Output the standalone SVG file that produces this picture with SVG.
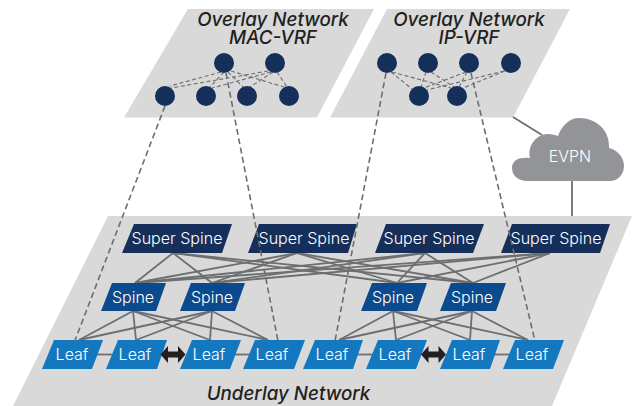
<svg xmlns="http://www.w3.org/2000/svg" width="632" height="406" viewBox="0 0 632 406">
<style>
.plane{fill:#d9d9d9}
.c{fill:#142f59}
.ss{fill:#152f5a}
.sp{fill:#0b4a8c}
.lf{fill:#1478c0}
.t{font-family:"Inter","Liberation Sans",sans-serif;font-size:16px;font-weight:300;fill:#fff;text-anchor:middle}
.h{font-family:"Inter","Liberation Sans",sans-serif;font-size:18.800px;font-weight:500;font-style:italic;fill:#231f20;text-anchor:middle}
.solid line{stroke:#6d6e70;stroke-width:1.8;fill:none}
.mesh line{stroke:#6d6e70;stroke-width:1.1;stroke-dasharray:4 2.5;fill:none}
.long line{stroke:#6d6e70;stroke-width:1.6;stroke-dasharray:6 3.5;fill:none}
</style>
<defs>
<path id="dbl" d="M-12.5 0L-5 -8.5V-3H5V-8.500L12.500 0L5 8.500V3H-5V8.500Z" fill="#231f20"/>
</defs>
<g id="plane-mac"><polygon class="plane" points="188,9 374,9 317,117.500 124,117.500"/></g>
<g id="plane-ip"><polygon class="plane" points="387,9 570,9 513,117.500 330,117.500"/></g>
<g id="plane-underlay"><polygon class="plane" points="108,216 632,216 552,406 13,406"/></g>
<g id="connectors" class="solid">
<line x1="513" y1="117" x2="542" y2="135"/>
<line x1="572" y1="181" x2="572" y2="216"/>
<line x1="173" y1="253" x2="135" y2="283"/><line x1="173" y1="253" x2="212" y2="283"/><line x1="173" y1="253" x2="397" y2="283"/><line x1="173" y1="253" x2="473" y2="283"/>
<line x1="297" y1="253" x2="135" y2="283"/><line x1="297" y1="253" x2="212" y2="283"/><line x1="297" y1="253" x2="397" y2="283"/><line x1="297" y1="253" x2="473" y2="283"/>
<line x1="425" y1="253" x2="135" y2="283"/><line x1="425" y1="253" x2="212" y2="283"/><line x1="425" y1="253" x2="397" y2="283"/><line x1="425" y1="253" x2="473" y2="283"/>
<line x1="550" y1="253" x2="135" y2="283"/><line x1="550" y1="253" x2="212" y2="283"/><line x1="550" y1="253" x2="397" y2="283"/><line x1="550" y1="253" x2="473" y2="283"/>
<line x1="133" y1="311" x2="79" y2="340"/><line x1="133" y1="311" x2="136" y2="340"/><line x1="133" y1="311" x2="210" y2="340"/><line x1="133" y1="311" x2="268" y2="340"/>
<line x1="212" y1="311" x2="79" y2="340"/><line x1="212" y1="311" x2="136" y2="340"/><line x1="212" y1="311" x2="210" y2="340"/><line x1="212" y1="311" x2="268" y2="340"/>
<line x1="393" y1="311" x2="339" y2="340"/><line x1="393" y1="311" x2="396" y2="340"/><line x1="393" y1="311" x2="470" y2="340"/><line x1="393" y1="311" x2="528" y2="340"/>
<line x1="472" y1="311" x2="339" y2="340"/><line x1="472" y1="311" x2="396" y2="340"/><line x1="472" y1="311" x2="470" y2="340"/><line x1="472" y1="311" x2="528" y2="340"/>
<line x1="92" y1="354.500" x2="112" y2="354.500"/><line x1="230" y1="354.500" x2="250" y2="354.500"/><line x1="353" y1="354.500" x2="373" y2="354.500"/><line x1="490" y1="354.500" x2="510" y2="354.500"/>
</g>
<g id="overlay-mesh" class="mesh">
<line x1="221" y1="72" x2="170" y2="86"/><line x1="224" y1="72" x2="210" y2="87"/><line x1="228" y1="72" x2="243" y2="87"/><line x1="231" y1="71" x2="284" y2="87"/>
<line x1="268" y1="71" x2="171" y2="88"/><line x1="271" y1="72" x2="212" y2="88"/><line x1="273" y1="72" x2="250" y2="87"/><line x1="277" y1="72" x2="287" y2="87"/>
<line x1="391" y1="72" x2="412" y2="89"/><line x1="392" y1="72" x2="451" y2="88"/><line x1="426" y1="72" x2="421" y2="87"/><line x1="431" y1="72" x2="454" y2="87"/>
<line x1="466" y1="72" x2="424" y2="88"/><line x1="467" y1="72" x2="459" y2="87"/><line x1="504" y1="71" x2="427" y2="90"/><line x1="505" y1="71" x2="463" y2="88"/>
</g>
<g id="vrf-mac-1"><circle class="c" cx="224" cy="63" r="10"/></g>
<g id="vrf-mac-2"><circle class="c" cx="275" cy="63" r="10"/></g>
<g id="vrf-mac-3"><circle class="c" cx="165" cy="96" r="10"/></g>
<g id="vrf-mac-4"><circle class="c" cx="206" cy="96" r="10"/></g>
<g id="vrf-mac-5"><circle class="c" cx="247" cy="96" r="10"/></g>
<g id="vrf-mac-6"><circle class="c" cx="289" cy="96" r="10"/></g>
<g id="vrf-ip-1"><circle class="c" cx="387" cy="63" r="10"/></g>
<g id="vrf-ip-2"><circle class="c" cx="428" cy="63" r="10"/></g>
<g id="vrf-ip-3"><circle class="c" cx="469" cy="63" r="10"/></g>
<g id="vrf-ip-4"><circle class="c" cx="511" cy="63" r="10"/></g>
<g id="vrf-ip-5"><circle class="c" cx="419" cy="96" r="10"/></g>
<g id="vrf-ip-6"><circle class="c" cx="457" cy="96" r="10"/></g>
<g id="evpn"><path d="M527 181C519 181 512 176 512 168C512 160 519 157 530 158C527 145 537 134 548 134C552 134 555 135 558 136C562 125 570 118 579 118C596 118 610 130 609 148C618 150 624 158 624 166C624 175 617 181 610 181Z" fill="#929497"/><text class="t" x="570" y="162">EVPN</text></g>
<g id="ss1"><polygon class="ss" points="134,224 232,224 222,253 122,253"/><text class="t" x="177" y="244">Super Spine</text></g>
<g id="ss2"><polygon class="ss" points="259,224 357,224 348,253 248,253"/><text class="t" x="304" y="244">Super Spine</text></g>
<g id="ss3"><polygon class="ss" points="386,224 484,224 473,253 375,253"/><text class="t" x="429" y="244">Super Spine</text></g>
<g id="ss4"><polygon class="ss" points="512,224 610,224 600,253 501,253"/><text class="t" x="556" y="244">Super Spine</text></g>
<g id="sp1"><polygon class="sp" points="112,283 166,283 156,311 101,311"/><text class="t" x="133" y="303">Spine</text></g>
<g id="sp2"><polygon class="sp" points="191,283 245,283 235,311 180,311"/><text class="t" x="212" y="303">Spine</text></g>
<g id="sp3"><polygon class="sp" points="372,283 427,283 417,311 361,311"/><text class="t" x="393" y="303">Spine</text></g>
<g id="sp4"><polygon class="sp" points="451,283 506,283 496,311 440,311"/><text class="t" x="472" y="303">Spine</text></g>
<g id="lf1"><polygon class="lf" points="54,340 103,340 92,369 42,369"/><text class="t" x="72" y="360">Leaf</text></g>
<g id="lf2"><polygon class="lf" points="118,340 167,340 157,369 106,369"/><text class="t" x="135" y="360">Leaf</text></g>
<g id="lf3"><polygon class="lf" points="192,340 241,340 230,369 180,369"/><text class="t" x="209" y="360">Leaf</text></g>
<g id="lf4"><polygon class="lf" points="255,340 305,340 294,369 243,369"/><text class="t" x="272" y="360">Leaf</text></g>
<g id="lf5"><polygon class="lf" points="315,340 363,340 353,369 303,369"/><text class="t" x="332" y="360">Leaf</text></g>
<g id="lf6"><polygon class="lf" points="378,340 427,340 416,369 366,369"/><text class="t" x="395" y="360">Leaf</text></g>
<g id="lf7"><polygon class="lf" points="452,340 500,340 490,369 440,369"/><text class="t" x="469" y="360">Leaf</text></g>
<g id="lf8"><polygon class="lf" points="515,340 564,340 553,369 503,369"/><text class="t" x="532" y="360">Leaf</text></g>
<g id="links" class="long">
<line x1="165" y1="106" x2="74" y2="343"/>
<line x1="226" y1="73" x2="278" y2="341"/>
<line x1="386" y1="73" x2="335" y2="341"/>
<line x1="471" y1="73" x2="535" y2="341"/>
</g>
<g id="dbl-arrows"><use href="#dbl" x="173" y="354.500"/><use href="#dbl" x="433.500" y="354.500"/></g>
<g id="labels">
<text class="h"><tspan x="273" y="26">Overlay Network</tspan><tspan x="273" y="44">MAC-VRF</tspan></text>
<text class="h"><tspan x="469" y="26">Overlay Network</tspan><tspan x="469" y="44">IP-VRF</tspan></text>
<text class="h" x="288.500" y="400">Underlay Network</text>
</g>
</svg>
